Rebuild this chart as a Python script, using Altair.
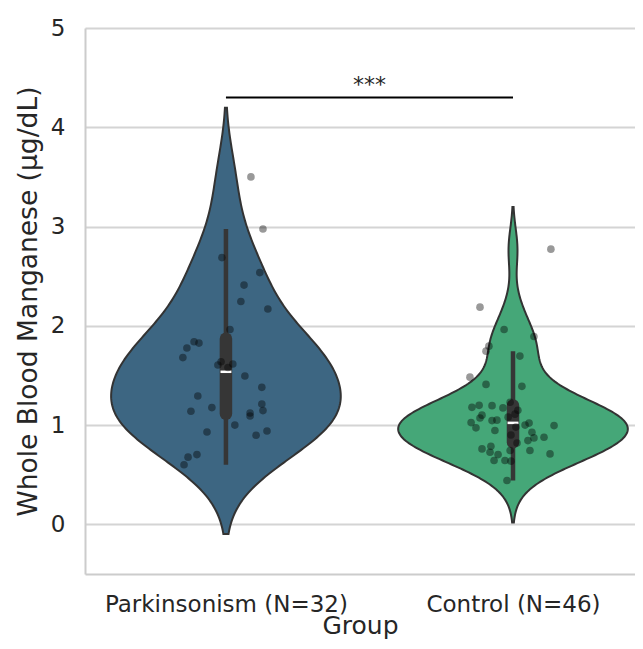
import numpy as np
import pandas as pd
import altair as alt

# ---------------- data ----------------
groups = ["Parkinsonism", "Control"]
colors = ["#3d6682", "#45a778"]

park_values = [3.50, 2.975, 2.687, 2.536, 2.41, 2.245, 2.17, 1.963, 1.84, 1.826,
               1.776, 1.68, 1.638, 1.605, 1.615, 1.494, 1.38, 1.293, 1.176, 1.213,
               1.139, 1.146, 1.122, 1.092, 1.0, 0.93, 0.94, 0.898, 0.703, 0.677,
               0.60, 1.58]
park_jitter = [0.087, 0.129, -0.014, 0.118, 0.063, 0.052, 0.146, 0.014, -0.111, -0.094,
               -0.136, -0.150, -0.017, -0.028, 0.024, 0.066, 0.125, -0.098, -0.049, 0.125,
               -0.122, 0.129, 0.084, 0.084, 0.031, -0.066, 0.143, 0.105, -0.101, -0.132,
               -0.146, 0.007]

control_values = [2.772, 2.188, 1.963, 1.893, 1.795, 1.745, 1.695, 1.483, 1.41, 1.39,
                  1.179, 1.199, 1.196, 1.173, 1.10, 1.072, 1.045, 1.05, 1.025, 0.972,
                  0.945, 1.11, 1.0, 1.02, 0.995, 0.928, 0.871, 0.844, 0.878, 0.744,
                  0.71, 0.76, 0.787, 0.727, 0.703, 0.643, 0.643, 0.637, 0.744, 0.442,
                  1.23, 1.15, 1.08, 0.98, 0.90, 0.82]
control_jitter = [0.132, -0.115, -0.031, 0.073, -0.084, -0.094, 0.024, -0.150, -0.094, 0.031,
                  -0.143, -0.118, -0.073, -0.035, -0.108, -0.115, -0.073, -0.056, -0.146, -0.129,
                  -0.063, 0.007, 0.042, 0.056, 0.143, 0.066, 0.073, 0.052, 0.108, 0.059,
                  0.129, -0.108, -0.077, -0.080, -0.052, -0.066, -0.028, -0.007, -0.010, -0.021,
                  -0.010, 0.017, -0.017, 0.010, -0.007, 0.014]

y_ticks = [0, 1, 2, 3, 4, 5]
sig_y = 4.3
sig_text = "***"
y_title = "Whole Blood Manganese (µg/dL)"
x_title = "Group"

# ---------------- derived tables ----------------
all_values = [park_values, control_values]
all_jitter = [park_jitter, control_jitter]
labels = [f"{g} (N={len(v)})" for g, v in zip(groups, all_values)]

viol_rows, box_rows, pt_rows = [], [], []
for i, (g, vals, jit) in enumerate(zip(groups, all_values, all_jitter)):
    v = np.asarray(vals, dtype=float)
    n = len(v)
    bw = v.std(ddof=1) * n ** (-1 / 5)
    grid = np.linspace(v.min() - 2 * bw, v.max() + 2 * bw, 240)
    dens = np.exp(-0.5 * ((grid[:, None] - v[None, :]) / bw) ** 2).sum(1) / (n * bw * np.sqrt(2 * np.pi))
    half = 0.4 * dens / dens.max()
    for y, h in zip(grid, half):
        viol_rows.append({"group": g, "val": y, "left": i - h, "right": i + h})
    q1, med, q3 = np.percentile(v, [25, 50, 75])
    iqr = q3 - q1
    lo = v[v >= q1 - 1.5 * iqr].min()
    hi = v[v <= q3 + 1.5 * iqr].max()
    box_rows.append({"group": g, "idx": i, "q1": q1, "q3": q3, "med": med,
                     "lo": lo, "hi": hi, "mlo": i - 0.019, "mhi": i + 0.019})
    for val, j in zip(vals, jit):
        pt_rows.append({"group": g, "val": val, "px": i + j})

viol_df = pd.DataFrame(viol_rows)
box_df = pd.DataFrame(box_rows)
pt_df = pd.DataFrame(pt_rows)
sig_df = pd.DataFrame([{"x0": 0, "x1": len(groups) - 1, "xm": (len(groups) - 1) / 2,
                        "y": sig_y, "t": sig_text}])

# ---------------- scales / axes ----------------
FONT = "DejaVu Sans"
TXT = "#262626"
xscale = alt.Scale(domain=[-0.491, 1.425], nice=False, zero=False)
yscale = alt.Scale(domain=[-0.5, 5], nice=False, zero=False)
label_expr = "[" + ",".join(f"'{l}'" for l in labels) + "][datum.value]"
xaxis = alt.Axis(values=list(range(len(groups))), labelExpr=label_expr, title=x_title,
                 grid=False, ticks=False, tickSize=0, domainColor="#cccccc", domainWidth=2,
                 labelFontSize=23, labelFont=FONT, labelColor=TXT, labelBaseline="alphabetic",
                 labelPadding=37, labelLimit=0, titleFontSize=25, titleFont=FONT, titleColor=TXT,
                 titleFontWeight="normal", titleBaseline="alphabetic", titleY=59)
yaxis = alt.Axis(values=y_ticks, title=y_title, grid=True, gridColor="#d4d4d4", gridWidth=2,
                 ticks=False, tickSize=0, domainColor="#cccccc", domainWidth=2,
                 labelFontSize=23, labelFont=FONT, labelColor=TXT, labelPadding=20,
                 titleFontSize=26.5, titleFont=FONT, titleColor=TXT, titleFontWeight="normal",
                 titleAngle=-90, titleBaseline="alphabetic", titleX=-49)


def X(f):
    return alt.X(f, type="quantitative", scale=xscale, axis=xaxis)


def Y(f):
    return alt.Y(f, type="quantitative", scale=yscale, axis=yaxis)


color = alt.Color("group:N", scale=alt.Scale(domain=groups, range=colors), legend=None)

violin = alt.Chart(viol_df).mark_area(orient="horizontal", stroke="#333333", strokeWidth=2,
                                      opacity=1).encode(
    y=Y("val"), x=X("left"), x2="right", color=color, detail="group:N")

whisk = alt.Chart(box_df).mark_rule(color="#363636", strokeWidth=4.5).encode(
    x=X("idx"), y=Y("lo"), y2="hi")
box = alt.Chart(box_df).mark_rule(color="#363636", strokeWidth=12.5, strokeCap="round").encode(
    x=X("idx"), y=Y("q1"), y2="q3")
median = alt.Chart(box_df).mark_rule(color="white", strokeWidth=2.5).encode(
    x=X("mlo"), x2="mhi", y=Y("med"))

points = alt.Chart(pt_df).mark_circle(size=58, color="black", opacity=0.4).encode(
    x=X("px"), y=Y("val"))

sig_line = alt.Chart(sig_df).mark_rule(color="black", strokeWidth=2).encode(
    x=X("x0"), x2="x1", y=Y("y"))
sig_label = alt.Chart(sig_df).mark_text(font=FONT, fontSize=22, color=TXT,
                                        baseline="alphabetic", dy=-5).encode(
    x=X("xm"), y=Y("y"), text="t:N")

chart = alt.layer(violin, whisk, box, median, points, sig_line, sig_label).properties(
    width=550, height=546,
    padding={"left": 77, "top": 20, "right": 0, "bottom": 66},
    autosize=alt.AutoSizeParams(type="none"),
    background="white",
).configure_view(stroke=None)

chart.save("out.html", embed_options={"renderer": "svg", "actions": False})
